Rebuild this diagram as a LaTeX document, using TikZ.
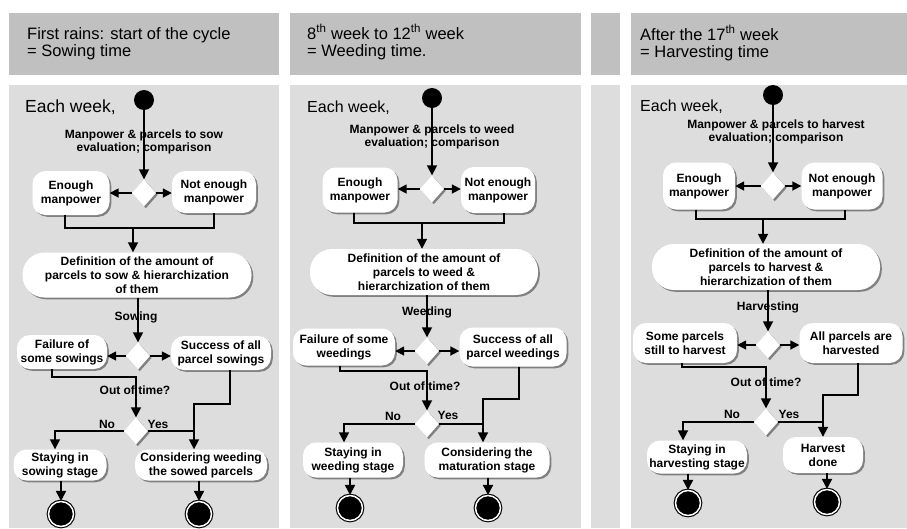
\documentclass[tikz,border=0pt]{standalone}
\usepackage{fontspec}
\setmainfont{Liberation Sans}
\usetikzlibrary{shapes.geometric,arrows.meta,shadows,calc}
\definecolor{hdrgray}{RGB}{192,192,192}
\definecolor{bodygray}{RGB}{221,221,221}
\tikzset{
  shad/.style={drop shadow={shadow xshift=1.8pt,shadow yshift=-1.8pt,fill=black!50,opacity=1}},
  box/.style={rectangle, rounded corners=13pt, fill=white, shad, align=center,
    font=\fontsize{12}{14}\selectfont\bfseries, inner sep=1pt},
  defbox/.style={box, rounded corners=22pt},
  dec/.style={diamond, fill=white, minimum width=24pt, minimum height=27pt, inner sep=0pt, shad},
  startdot/.style={circle, fill=black, minimum size=20pt, inner sep=0pt},
  enddot/.style={circle, fill=black, draw=black, line width=1.1pt, double=white, double distance=1.5pt, minimum size=25pt, inner sep=0pt},
  lbl/.style={align=center, font=\fontsize{12}{13.5}\selectfont\bfseries, inner sep=0pt},
  hdrtxt/.style={align=left, anchor=west, font=\fontsize{16.5}{17}\selectfont, inner sep=0pt},
  weektxt/.style={anchor=west, font=\fontsize{16}{18}\selectfont, inner sep=0pt},
  flow/.style={line width=1.7pt},
  arr/.style={flow, -{Triangle[width=10pt,length=10pt]}},
  sarr/.style={flow, -{Triangle[width=9pt,length=9pt]}},
}
\begin{document}
\begin{tikzpicture}[x=1pt,y=-1pt]
\useasboundingbox (0,0) rectangle (907,528);
% ---------- panels ----------
\fill[hdrgray] (9,13) rectangle (279,75);
\fill[bodygray] (9,85) rectangle (279,528);
\fill[hdrgray] (290,13) rectangle (581,75);
\fill[bodygray] (290,85) rectangle (581,528);
\fill[hdrgray] (591,13) rectangle (620,75);
\fill[bodygray] (591,85) rectangle (620,528);
\fill[hdrgray] (631,13) rectangle (907,75);
\fill[bodygray] (631,85) rectangle (907,528);

% =================== Column 1 ===================
\node[hdrtxt] (ah) at (27,44) {First rains: start of the cycle\\= Sowing time};
\node[weektxt, font=\fontsize{17.5}{19}\selectfont] (aw) at (25,107) {Each week,};
\node[startdot] (a0) at (144,100) {};
\node[dec] (ad1) at (144,193) {};
\node[box, minimum width=77pt, minimum height=44pt] (aE) at (71,193) {Enough\\manpower};
\node[box, minimum width=84pt, minimum height=42pt] (aN) at (214,192) {Not enough\\manpower};
\coordinate (am) at (133,228);
\node[defbox, minimum width=229pt, minimum height=45pt] (aD) at (137,275) {Definition of the amount of\\parcels to sow \& hierarchization\\of them};
\node[dec] (ad2) at (138,356) {};
\node[box, minimum width=90pt, minimum height=34pt] (aF) at (62,352) {Failure of\\some sowings};
\node[box, minimum width=100pt, minimum height=34pt] (aS) at (221,353) {Success of all\\parcel sowings};
\coordinate (aj1) at (136,377);
\node[dec] (ad3) at (136,431) {};
\coordinate (aj2) at (194,404);
\node[box, minimum width=93pt, minimum height=31pt] (aY) at (60,465) {Staying in\\sowing stage};
\node[box, minimum width=132pt, minimum height=31pt] (aC) at (201,465) {Considering weeding\\the sowed parcels};
\node[enddot] (aX1) at (61,514) {};
\node[enddot] (aX2) at (199,514) {};

\draw[arr] (a0) -- (ad1);
\node[lbl] (al1) at (144,142) {Manpower \& parcels to sow\\evaluation; comparison};
\draw[sarr] (ad1.west) -- (ad1.west -| aE.east);
\draw[sarr] (ad1.east) -- (ad1.east -| aN.west);
\draw[flow] ([xshift=-6pt]aE.south) |- (am) -| (aN.south);
\draw[arr] (am) -- (am |- aD.north);
\draw[arr] (ad2.north |- aD.south) -- (ad2.north);
\node[lbl] (al2) at (136,317) {Sowing};
\draw[sarr] (ad2.west) -- (ad2.west -| aF.east);
\draw[sarr] (ad2.east) -- (ad2.east -| aS.west);
\draw[arr] ([xshift=-10pt]aF.south) |- (aj1) -- (ad3.north);
\node[lbl] (al3) at (135,390) {Out of time?};
\draw[arr] ([xshift=9pt]aS.south) |- (aj2) -- (aj2 |- aC.north);
\draw[flow] (ad3.east) -- (ad3.east -| aj2);
\draw[arr] (ad3.west) -| ([xshift=-5pt]aY.north);
\node[lbl] (al4) at (107,424) {No};
\node[lbl] (al5) at (158,424) {Yes};
\draw[arr] (aX1.north |- aY.south) -- (aX1.north);
\draw[arr] (aX2.north |- aC.south) -- (aX2.north);

% =================== Column 2 ===================
\node[hdrtxt] (bh) at (307,42) {8\textsuperscript{th} week to 12\textsuperscript{th} week\\= Weeding time.};
\node[weektxt] (bw) at (307,108) {Each week,};
\node[startdot] (b0) at (432,98) {};
\node[dec] (bd1) at (432,189) {};
\node[box, minimum width=75pt, minimum height=45pt] (bE) at (360,190) {Enough\\manpower};
\node[box, minimum width=74pt, minimum height=46pt] (bN) at (498,190) {Not enough\\manpower};
\coordinate (bm) at (422,223);
\node[defbox, minimum width=228pt, minimum height=46pt] (bD) at (424,272) {Definition of the amount of\\parcels to weed \&\\hierarchization of them};
\node[dec] (bd2) at (427,351) {};
\node[box, minimum width=102pt, minimum height=37pt] (bF) at (344,347) {Failure of some\\weedings};
\node[box, minimum width=107pt, minimum height=39pt] (bS) at (513,347) {Success of all\\parcel weedings};
\coordinate (bj1) at (427,371);
\node[dec] (bd3) at (427,424) {};
\coordinate (bj2) at (483,399);
\node[box, minimum width=100pt, minimum height=35pt] (bY) at (353,460) {Staying in\\weeding stage};
\node[box, minimum width=125pt, minimum height=35pt] (bC) at (487,460) {Considering the\\maturation stage};
\node[enddot] (bX1) at (350,508) {};
\node[enddot] (bX2) at (488,508) {};

\draw[arr] (b0) -- (bd1);
\node[lbl] (bl1) at (432,137) {Manpower \& parcels to weed\\evaluation; comparison};
\draw[sarr] (bd1.west) -- (bd1.west -| bE.east);
\draw[sarr] (bd1.east) -- (bd1.east -| bN.west);
\draw[flow] ([xshift=-6pt]bE.south) |- (bm) -| ([xshift=6pt]bN.south);
\draw[arr] (bm) -- (bm |- bD.north);
\draw[arr] (bd2.north |- bD.south) -- (bd2.north);
\node[lbl] (bl2) at (427,312) {Weeding};
\draw[sarr] (bd2.west) -- (bd2.west -| bF.east);
\draw[sarr] (bd2.east) -- (bd2.east -| bS.west);
\draw[arr] ([xshift=-4pt]bF.south) |- (bj1) -- (bd3.north);
\node[lbl] (bl3) at (425,386) {Out of time?};
\draw[arr] ([xshift=6pt]bS.south) |- (bj2) -- (bj2 |- bC.north);
\draw[flow] (bd3.east) -- (bd3.east -| bj2);
\draw[arr] (bd3.west) -| ([xshift=-9pt]bY.north);
\node[lbl] (bl4) at (393,416) {No};
\node[lbl] (bl5) at (448,415) {Yes};
\draw[arr] (bX1.north |- bY.south) -- (bX1.north);
\draw[arr] (bX2.north |- bC.south) -- (bX2.north);

% =================== Column 3 ===================
\node[hdrtxt] (ch) at (640,43) {After the 17\textsuperscript{th} week\\= Harvesting time};
\node[weektxt] (cw) at (640,107) {Each week,};
\node[startdot] (c0) at (773,95) {};
\node[dec] (cd1) at (773,186) {};
\node[box, minimum width=72pt, minimum height=47pt] (cE) at (699,186) {Enough\\manpower};
\node[box, minimum width=81pt, minimum height=47pt] (cN) at (842,186) {Not enough\\manpower};
\coordinate (cm) at (763,219);
\node[defbox, minimum width=228pt, minimum height=46pt] (cD) at (766,267) {Definition of the amount of\\parcels to harvest \&\\hierarchization of them};
\node[dec] (cd2) at (768,345) {};
\node[box, minimum width=104pt, minimum height=40pt] (cF) at (685,343) {Some parcels\\still to harvest};
\node[box, minimum width=103pt, minimum height=40pt] (cS) at (851,343) {All parcels are\\harvested};
\coordinate (cj1) at (766,367);
\node[dec] (cd3) at (766,422) {};
\coordinate (cj2) at (823,395);
\node[box, minimum width=100pt, minimum height=33pt] (cY) at (697,457) {Staying in\\harvesting stage};
\node[box, minimum width=80pt, minimum height=36pt] (cC) at (823,455) {Harvest\\done};
\node[enddot] (cX1) at (688,503) {};
\node[enddot] (cX2) at (827,502) {};

\draw[arr] (c0) -- (cd1);
\node[lbl] (cl1) at (776,132) {Manpower \& parcels to harvest\\evaluation; comparison};
\draw[sarr] (cd1.west) -- (cd1.west -| cE.east);
\draw[sarr] (cd1.east) -- (cd1.east -| cN.west);
\draw[flow] ([xshift=-3pt]cE.south) |- (cm) -| ([xshift=3pt]cN.south);
\draw[arr] (cm) -- (cm |- cD.north);
\draw[arr] (cd2.north |- cD.south) -- (cd2.north);
\node[lbl] (cl2) at (768,307) {Harvesting};
\draw[sarr] (cd2.west) -- (cd2.west -| cF.east);
\draw[sarr] (cd2.east) -- (cd2.east -| cS.west);
\draw[arr] ([xshift=-3pt]cF.south) |- (cj1) -- (cd3.north);
\node[lbl] (cl3) at (766,382) {Out of time?};
\draw[arr] ([xshift=7pt]cS.south) |- (cj2) -- (cj2 |- cC.north);
\draw[flow] (cd3.east) -- (cd3.east -| cj2);
\draw[arr] (cd3.west) -| ([xshift=-14pt]cY.north);
\node[lbl] (cl4) at (732,414) {No};
\node[lbl] (cl5) at (789,414) {Yes};
\draw[arr] (cX1.north |- cY.south) -- (cX1.north);
\draw[arr] (cX2.north |- cC.south) -- (cX2.north);
\end{tikzpicture}
\end{document}
